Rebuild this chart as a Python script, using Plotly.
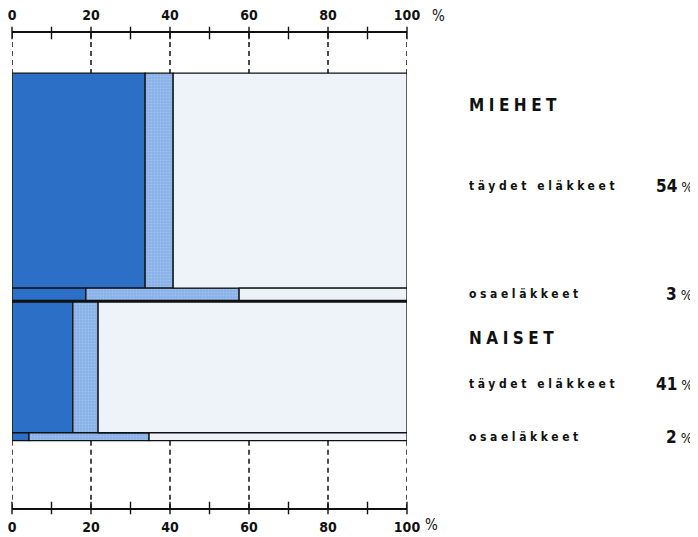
import plotly.graph_objects as go

# ---- data ----
bands = ["Miehet täydet", "Miehet osa", "Naiset täydet", "Naiset osa"]
band_thickness = [54, 3.3, 33, 2]          # vertical size of each band
dark_share = [33.7, 18.7, 15.4, 4.3]       # end of dark segment (%)
medium_end = [40.8, 57.5, 21.8, 34.7]      # end of medium segment (%)
tick_values = [0, 20, 40, 60, 80, 100]
minor_ticks = [0, 10, 20, 30, 40, 50, 60, 70, 80, 90, 100]
groups = ["MIEHET", "NAISET"]
row_labels = ["täydet eläkkeet", "osaeläkkeet", "täydet eläkkeet", "osaeläkkeet"]
row_values = ["54", "3", "41", "2"]

top_pad = 10.1
bottom_pad = 16.9

# band centres
centres = []
acc = 0
for t in band_thickness:
    centres.append(acc + t / 2)
    acc += t
total = acc
sep_y = band_thickness[0] + band_thickness[1]

DARK = "#2c6fc6"
MED = "#86b0e8"
LIGHT = "#eef3fa"
FONT = "DejaVu Sans Condensed, DejaVu Sans, sans-serif"

fig = go.Figure()

# dashed guide lines above and below the bars
gx, gy = [], []
for v in tick_values:
    gx += [v, v, None, v, v, None]
    gy += [-top_pad, 0, None, total, total + bottom_pad, None]
fig.add_trace(go.Scatter(x=gx, y=gy, mode="lines",
                         line=dict(color="#111", width=1.5, dash="5px,4px"),
                         cliponaxis=False, showlegend=False, hoverinfo="skip"))

line = dict(color="#111", width=1.3)
fig.add_trace(go.Bar(orientation="h", y=centres, x=dark_share, base=[0] * 4,
                     width=band_thickness, marker=dict(color=DARK, line=line),
                     showlegend=False, hoverinfo="skip"))
fig.add_trace(go.Bar(orientation="h", y=centres,
                     x=[m - d for m, d in zip(medium_end, dark_share)], base=dark_share,
                     width=band_thickness,
                     marker=dict(color=MED, line=line,
                                 pattern=dict(shape=".", fgcolor="#b9d2f3", size=3,
                                              solidity=0.35, fillmode="overlay")),
                     showlegend=False, hoverinfo="skip"))
fig.add_trace(go.Bar(orientation="h", y=centres,
                     x=[100 - m for m in medium_end], base=medium_end,
                     width=band_thickness, marker=dict(color=LIGHT, line=line),
                     showlegend=False, hoverinfo="skip"))

# crossing tick marks on both axis lines
for yv in (-top_pad, total + bottom_pad):
    fig.add_trace(go.Scatter(x=minor_ticks, y=[yv] * len(minor_ticks), mode="markers",
                             marker=dict(symbol="line-ns", size=9,
                                         line=dict(color="#111", width=1.4)),
                             cliponaxis=False, showlegend=False, hoverinfo="skip"))

# dummy trace for the top axis
fig.add_trace(go.Scatter(x=[0, 100], y=[0, 0], xaxis="x2", mode="markers",
                         marker=dict(opacity=0), showlegend=False, hoverinfo="skip"))

# thick separator between men and women
fig.add_shape(type="line", x0=0, x1=100, y0=sep_y, y1=sep_y,
              line=dict(color="#111", width=3))

tickfont = dict(family=FONT, size=14, color="#111", weight="bold")
# the page body adds an 8px offset, so the figure is 8px smaller
fig.update_layout(
    width=690, height=529,
    margin=dict(l=4, r=291, t=25, b=29, autoexpand=False),
    paper_bgcolor="white", plot_bgcolor="white",
    barmode="overlay",
    xaxis=dict(range=[0, 100], tickvals=tick_values, showline=True, mirror=True,
               linecolor="#111", linewidth=1.5, showgrid=False, zeroline=False,
               ticks="", ticklabelstandoff=5, automargin=False, tickfont=tickfont,
               ticklabeloverflow="allow"),
    xaxis2=dict(range=[0, 100], overlaying="x", side="top", tickvals=tick_values,
                showgrid=False, showline=False, zeroline=False, ticks="",
                ticklabelstandoff=9, automargin=False, tickfont=tickfont,
                ticklabeloverflow="allow"),
    yaxis=dict(range=[total + bottom_pad, -top_pad], visible=False,
               showgrid=False, zeroline=False, automargin=False),
)

def px_x(p):
    return (p - 12) / 395.0

def px_y(p):
    return (508 - p) / 475.0

# % signs after the axes
fig.add_annotation(x=px_x(430), y=px_y(16), xref="paper", yref="paper", text="%",
                   showarrow=False, xanchor="left", yanchor="middle",
                   font=dict(family=FONT, size=15, color="#111"))
fig.add_annotation(x=px_x(423), y=px_y(525), xref="paper", yref="paper", text="%",
                   showarrow=False, xanchor="left", yanchor="middle",
                   font=dict(family=FONT, size=15, color="#111"))

# right-hand labels
group_y = [105, 338]
for g, yy in zip(groups, group_y):
    fig.add_annotation(x=px_x(467), y=px_y(yy), xref="paper", yref="paper",
                       text=f'<span style="letter-spacing:4.5px">{g}</span>',
                       showarrow=False, xanchor="left", yanchor="middle",
                       font=dict(family=FONT, size=17, color="#111", weight="bold"))

row_y = [186, 294, 384, 437]
for lab, val, yy in zip(row_labels, row_values, row_y):
    fig.add_annotation(x=px_x(467), y=px_y(yy), xref="paper", yref="paper",
                       text=f'<span style="letter-spacing:3.6px">{lab}</span>',
                       showarrow=False, xanchor="left", yanchor="middle",
                       font=dict(family=FONT, size=12, color="#111", weight="bold"))
    fig.add_annotation(x=px_x(695), y=px_y(yy), xref="paper", yref="paper",
                       text=f'<b><span style="font-size:17px">{val}</span></b> %',
                       showarrow=False, xanchor="right", yanchor="middle",
                       font=dict(family=FONT, size=14, color="#111"))

fig.write_html("out.html")
